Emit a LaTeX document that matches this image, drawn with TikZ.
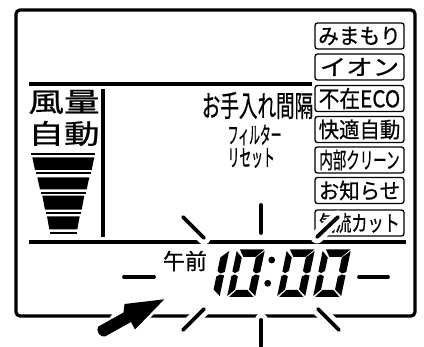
\documentclass[tikz,border=0pt]{standalone}
\usepackage{fontspec}
\usepackage{graphicx}
\newfontfamily\cjk[FakeBold=0.7]{Noto Sans CJK JP}
\newfontfamily\cjkb[FakeBold=1.2]{Noto Sans CJK JP}
\newcommand{\jt}[3]{\scalebox{#1}[1]{\fontsize{#2}{#2}\selectfont\cjk #3}}
\newcommand{\jb}[3]{\scalebox{#1}[1]{\fontsize{#2}{#2}\selectfont\cjkb #3}}
\tikzset{
  frameline/.style={line width=3.2pt,rounded corners=4pt},
  rule/.style={line width=4.5pt},
  btn/.style={draw,line width=1.3pt,rounded corners=2.5pt,minimum width=89pt,minimum height=26pt,inner sep=0pt,anchor=center},
  lab/.style={inner sep=0pt,anchor=center},
  spark/.style={line width=3.8pt,line cap=round},
  halo/.style={white,line width=13pt,line cap=round},
  seg/.style={fill=black,draw=none}
}
\newcommand{\lcdzero}[1]{%
  \begin{scope}[shift={(#1,297)},x=1pt,y=1pt,xslant=.21]
    \fill[seg] (3,47.5)--(27.5,47.5)--(20,40)--(8,40)--cycle;
    \fill[seg] (28,46)--(28,25)--(24,23.5)--(20.5,26)--(20.5,39.5)--cycle;
    \fill[seg] (28,21.5)--(28,1)--(20.5,7.5)--(20.5,20.5)--(24,22.5)--cycle;
    \fill[seg] (2,0)--(26.5,0)--(19,7)--(8,7)--cycle;
    \fill[seg] (0,1)--(6.5,7.5)--(6.5,20.5)--(3,22.5)--(0,21)--cycle;
    \fill[seg] (0,25.5)--(3,24)--(6.5,26)--(6.5,39.5)--(0,46)--cycle;
  \end{scope}}
\begin{document}
\begin{tikzpicture}[x=1pt,y=-1pt]
\useasboundingbox (0,0) rectangle (424,347);
\fill[white] (0,0) rectangle (424,347);
% frame and rules
\draw[frameline] (16,10) rectangle (415,316);
\draw[rule] (29,84) -- (312,84);
\draw[rule] (29,242) -- (406,242);
\draw[line width=3.6pt] (103,89) -- (103,237);
% fan labels
\node[lab] (fu) at (64,102) {\jt{1.32}{27}{風量}};
\node[lab] (ji) at (64,133.5) {\jt{1.32}{27}{自動}};
% funnel
\fill (31,153.2) rectangle (95,155.2);
\fill (32.3,157.3)--(94.3,157.3)--(91.7,170)--(35,170)--cycle;
\fill (36,172.5) rectangle (90.7,174.5);
\fill (37.3,177.3)--(89.3,177.3)--(86.7,189.3)--(40,189.3)--cycle;
\fill (40.7,192) rectangle (86,194);
\fill (42.3,195.7)--(84.3,195.7)--(81.7,209.7)--(45,209.7)--cycle;
\fill (45.7,212.3) rectangle (81,214.3);
\fill (47,216.3)--(79.7,216.3)--(77.3,229.3)--(49.3,229.3)--cycle;
\fill (50,231.7) rectangle (76.7,233.7);
% centre texts
\node[lab] (oteire) at (257.5,105.5) {\jt{.63}{29.5}{お手入れ間隔}};
\node[lab,anchor=west] (filter) at (227.5,135) {\jb{.46}{23.5}{フィルター}};
\node[lab,anchor=west] (reset) at (227.5,158) {\jb{.5}{23.5}{リセット}};
% buttons
\node[btn] (b1) at (359.5,36) {\jt{.96}{21.5}{みまもり}};
\node[btn] (b2) at (359.5,67) {\jt{1.2}{22}{イオン}};
\node[btn] (b3) at (359.5,98.5) {\jt{.9}{23}{不在ECO}};
\node[btn] (b4) at (359.5,129.5) {\jt{.95}{21.5}{快適自動}};
\node[btn] (b5) at (359.5,160) {\jt{.6}{22.5}{内部クリーン}};
\node[btn] (b6) at (359.5,190.5) {\jt{.95}{21.5}{お知らせ}};
\node[btn] (b7) at (359.5,223) {\jt{.75}{21.5}{気流カット}};
% clock
\node[lab] (gozen) at (185,261) {\fontsize{22}{22}\selectfont\cjk 午前};
\begin{scope}[shift={(191.5,297)},x=1pt,y=1pt,xslant=.21]
  \fill[seg] (28,46)--(28,25)--(24,23.5)--(20.5,26)--(20.5,39.5)--cycle;
  \fill[seg] (28,21.5)--(28,1)--(20.5,7.5)--(20.5,20.5)--(24,22.5)--cycle;
\end{scope}
\lcdzero{227}
\fill (271.7,260) circle (3.4pt);
\fill (267.7,283.3) circle (3.4pt);
\lcdzero{277}
\lcdzero{313}
% sparks
\foreach \a/\b/\c/\d in {183/217/204/238, 338/217/317/237, 204/309/183/330, 261/320/261/346, 318/309/339/330}
  \draw[halo] (\a,\b) -- (\c,\d);
\foreach \a/\b/\c/\d in {261/205/261/233, 183/217/204/238, 338/217/317/237, 124/277/154/277, 359/277/388/277, 204/309/183/330, 261/320/261/346, 318/309/339/330}
  \draw[spark] (\a,\b) -- (\c,\d);
% arrow
\path[draw=white,line width=6pt,fill=white] (102,332)--(124.5,304)--(164,299)--(135,329.5)--cycle;
\fill[line join=round] (164.3,299.3)--(135,329.5)--(131,322)--(105,336.5)
  .. controls (100,338) and (95,330) .. (98.5,326.5)--(123.5,312.5)--(124.5,304)--cycle;
\end{tikzpicture}
\end{document}
